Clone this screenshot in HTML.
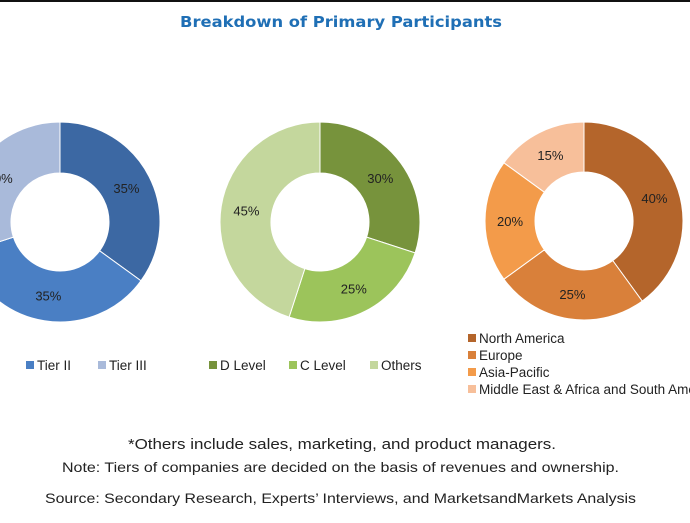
<!DOCTYPE html>
<html><head><meta charset="utf-8"><style>
body{margin:0;background:#fff;width:690px;height:518px;overflow:hidden;font-family:"Liberation Sans",sans-serif}
</style></head><body>
<svg width="690" height="518">
<rect x="0" y="0" width="690" height="2" fill="#111"/>
<text x="180" y="27" textLength="322" lengthAdjust="spacingAndGlyphs" font-family="DejaVu Sans, sans-serif" font-size="15" font-weight="bold" fill="#1F6FB5">Breakdown of Primary Participants</text>
<g id="donuts"></g>
<g font-size="15" fill="#222">
<text x="128" y="449" textLength="428" lengthAdjust="spacingAndGlyphs">*Others include sales, marketing, and product managers.</text>
<text x="62" y="472" textLength="557" lengthAdjust="spacingAndGlyphs" font-size="14">Note: Tiers of companies are decided on the basis of revenues and ownership.</text>
<text x="45" y="503" textLength="591" lengthAdjust="spacingAndGlyphs" font-size="14">Source: Secondary Research, Experts’ Interviews, and MarketsandMarkets Analysis</text>
</g>
</svg>
<script>
const tierLabels=["Tier I","Tier II","Tier III"];
const tierValues=[35,35,30];
const levelLabels=["D Level","C Level","Others"];
const levelValues=[30,25,45];
const regionLabels=["North America","Europe","Asia-Pacific","Middle East & Africa and South America"];
const regionValues=[40,25,20,15];

const NS="http://www.w3.org/2000/svg";
const root=document.getElementById('donuts');
function mk(t,a){const e=document.createElementNS(NS,t);for(const k in a)e.setAttribute(k,a[k]);return e;}
function donut(name,cx,cy,R,r,labels,values,colors){
  const tot=values.reduce((a,b)=>a+b,0);let acc=0;
  values.forEach((v,i)=>{
    const a0=acc/tot*2*Math.PI,a1=(acc+v)/tot*2*Math.PI;acc+=v;
    const p=(a,rad)=>[cx+rad*Math.sin(a),cy-rad*Math.cos(a)];
    const [x0,y0]=p(a0,R),[x1,y1]=p(a1,R),[x2,y2]=p(a1,r),[x3,y3]=p(a0,r);
    const lg=(a1-a0)>Math.PI?1:0;
    const path=mk('path',{d:`M${x0},${y0}A${R},${R} 0 ${lg} 1 ${x1},${y1}L${x2},${y2}A${r},${r} 0 ${lg} 0 ${x3},${y3}Z`,fill:colors[i],stroke:'#fff','stroke-width':1});
    
    
    root.appendChild(path);
    const m=(a0+a1)/2,[lx,ly]=p(m,(R+r)/2);
    const t=mk('text',{x:lx,y:ly+5,'text-anchor':'middle','font-size':13,fill:'#222'});
    t.textContent=v+'%';
    
    
    root.appendChild(t);
  });
}
function legendItem(name,x,y,color,label){
  const g=mk('g',{});
  
  
  g.appendChild(mk('rect',{x:x,y:y-9,width:8,height:8,fill:color}));
  const t=mk('text',{x:x+11,y:y,'font-size':13.5,fill:'#222'});t.textContent=label;g.appendChild(t);
  root.appendChild(g);
}
const tierColors=["#3C68A3","#4A7FC4","#A9BADA"];
const levelColors=["#77933C","#9CC45B","#C4D79D"];
const regionColors=["#B4652B","#D9803A","#F39B4A","#F7BF9A"];
donut('tier',60,222,100,49,tierLabels,tierValues,tierColors);
donut('level',320,222,100,49,levelLabels,levelValues,levelColors);
donut('region',584,221,99,49,regionLabels,regionValues,regionColors);
legendItem('legend-tier-i',-45,370,tierColors[0],tierLabels[0]);
legendItem('legend-tier-ii',26,370,tierColors[1],tierLabels[1]);
legendItem('legend-tier-iii',98,370,tierColors[2],tierLabels[2]);
legendItem('legend-d-level',209,370,levelColors[0],levelLabels[0]);
legendItem('legend-c-level',289,370,levelColors[1],levelLabels[1]);
legendItem('legend-others',370,370,levelColors[2],levelLabels[2]);
regionLabels.forEach((l,i)=>legendItem('legend-region-'+i,468,343+i*17,regionColors[i],l));
</script>
</body></html>
